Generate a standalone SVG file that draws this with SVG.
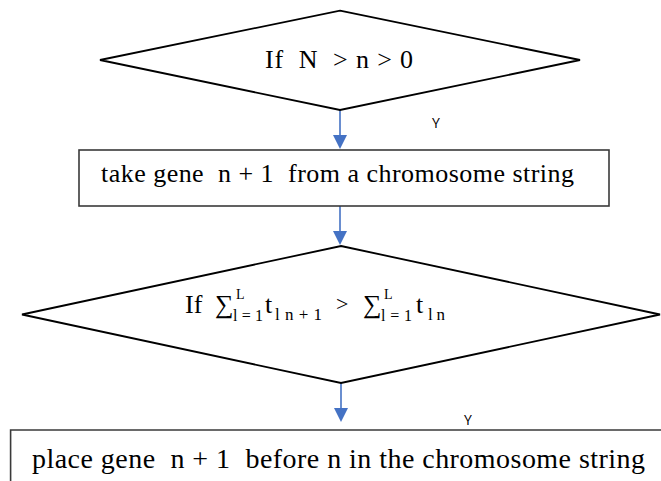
<svg xmlns="http://www.w3.org/2000/svg" width="661" height="481" viewBox="0 0 661 481">
<defs>
<style>
.shape{fill:#fff;stroke:#000;stroke-width:1.8}
.box{fill:#fff;stroke:#3a3a3a;stroke-width:1.6}
.conn{stroke:#4472c4;stroke-width:1.6;fill:none}
.head{fill:#4472c4}
.t{font-family:"Liberation Serif","DejaVu Serif",serif;fill:#000}
.lbl{font-family:"Open Sans","Liberation Sans",sans-serif;font-size:14px;fill:#000}
</style>
</defs>
<rect width="661" height="481" fill="#fff"/>
<g id="connectors">
<line class="conn" x1="340" y1="110" x2="340" y2="136"/>
<polygon class="head" points="333,135 347,135 340,149"/>
<line class="conn" x1="340" y1="206" x2="340" y2="232"/>
<polygon class="head" points="333,231 347,231 340,245"/>
<line class="conn" x1="341" y1="383" x2="341" y2="409"/>
<polygon class="head" points="334,408 348,408 341,422"/>
<text class="lbl" x="432" y="128">Y</text>
<text class="lbl" x="464" y="425">Y</text>
</g>
<g id="decision1">
<polygon class="shape" points="340,10.7 580,60 340,110 100,60"/>
<text class="t" x="265" y="68" font-size="26" textLength="148" lengthAdjust="spacing">If&#160; N&#160; &gt; n &gt; 0</text>
</g>
<g id="process1">
<rect class="box" x="79" y="150" width="530" height="56"/>
<text class="t" x="101" y="182" font-size="26" textLength="473" lengthAdjust="spacing">take gene&#160; n + 1&#160; from a chromosome string</text>
</g>
<g id="decision2">
<polygon class="shape" points="341,246 660,314.5 341,383 22,314.5"/>
<g class="t">
<text x="185" y="313" font-size="26">If</text>
<text x="215" y="313" font-size="26">∑</text>
<text x="236" y="299" font-size="14">L</text>
<text x="233" y="321" font-size="16" textLength="30" lengthAdjust="spacing">l=1</text>
<text x="265" y="313" font-size="26">t</text>
<text x="275" y="320" font-size="17" textLength="47" lengthAdjust="spacing">ln+1</text>
<text x="336" y="311" font-size="22">&gt;</text>
<text x="363" y="313" font-size="26">∑</text>
<text x="384" y="299" font-size="14">L</text>
<text x="381" y="321" font-size="16" textLength="31" lengthAdjust="spacing">l=1</text>
<text x="416" y="313" font-size="26">t</text>
<text x="428" y="320" font-size="17" textLength="17" lengthAdjust="spacing">ln</text>
</g>
</g>
<g id="process2">
<path class="box" d="M661,430 H10.6 V482" fill="none"/>
<text class="t" x="32" y="468" font-size="28" textLength="613" lengthAdjust="spacing">place gene&#160; n + 1&#160; before n in the chromosome string</text>
</g>
</svg>
